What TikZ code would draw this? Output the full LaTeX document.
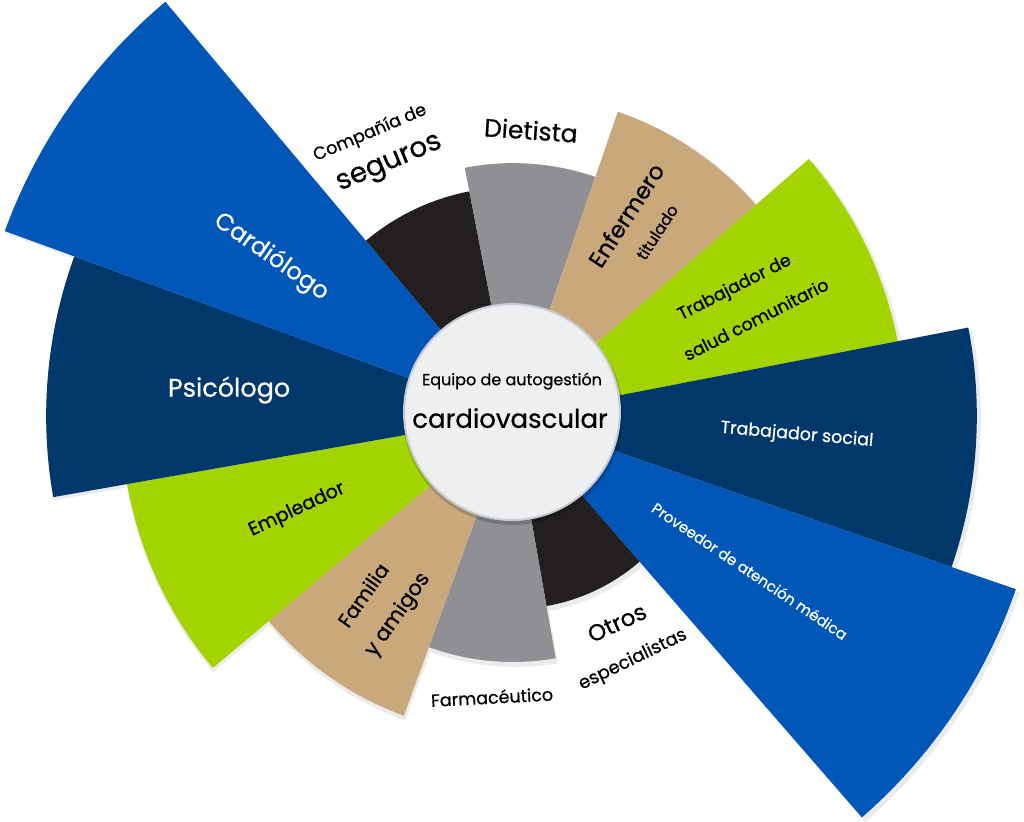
\documentclass[tikz,border=0pt]{standalone}
\usepackage{fontspec}
\setmainfont{Poppins}[FakeBold=0.6]
\definecolor{secblue}{HTML}{0057B8}
\definecolor{secnavy}{HTML}{00386B}
\definecolor{secgreen}{HTML}{A4D400}
\definecolor{sectan}{HTML}{C9A97B}
\definecolor{secgray}{HTML}{8E9094}
\definecolor{secblack}{HTML}{231F20}
\definecolor{hubfill}{HTML}{EDEFF1}
\definecolor{hubrim}{HTML}{C8CCD0}
\tikzset{
  sectorshadow/.style={fill=black,opacity=0.08},
  darktext/.style={text=black,inner sep=0pt},
  lighttext/.style={text=white,inner sep=0pt},
  bigtext/.style={font=\fontsize{25}{29}\selectfont},
  midtext/.style={font=\fontsize{17.5}{21}\selectfont},
  smalltext/.style={font=\fontsize{16}{19}\selectfont},
}
\begin{document}
\begin{tikzpicture}[x=1pt,y=1pt]
\filldraw[color=white] (-513.000000,-405.000000) rectangle (511.000000,416.000000);
% Drawing shadows under the sectors
\begin{scope}[shift={(2.000000,-3.000000)}]
\fill[sectorshadow] (0,0) -- (101.000000:231.000000) arc[start angle=101, end angle=130, radius=231pt] -- cycle;
\fill[sectorshadow] (0,0) -- (71.000000:255.000000) arc[start angle=71, end angle=101, radius=255pt] -- cycle;
\fill[sectorshadow] (0,0) -- (41.000000:324.000000) arc[start angle=41, end angle=71, radius=324pt] -- cycle;
\fill[sectorshadow] (0,0) -- (11.000000:394.000000) arc[start angle=11, end angle=41, radius=394pt] -- cycle;
\fill[sectorshadow] (0,0) -- (-19.000000:466.000000) arc[start angle=-19, end angle=11, radius=466pt] -- cycle;
\fill[sectorshadow] (0,0) -- (-49.000000:534.000000) arc[start angle=-49, end angle=-19, radius=534pt] -- cycle;
\fill[sectorshadow] (0,0) -- (-80.000000:195.000000) arc[start angle=-80, end angle=-49, radius=195pt] -- cycle;
\fill[sectorshadow] (0,0) -- (-110.000000:248.000000) arc[start angle=-110, end angle=-80, radius=248pt] -- cycle;
\fill[sectorshadow] (0,0) -- (-140.000000:321.000000) arc[start angle=-140, end angle=-110, radius=321pt] -- cycle;
\fill[sectorshadow] (0,0) -- (-170.000000:394.000000) arc[start angle=-170, end angle=-140, radius=394pt] -- cycle;
\fill[sectorshadow] (0,0) -- (160.000000:469.000000) arc[start angle=160, end angle=190, radius=469pt] -- cycle;
\fill[sectorshadow] (0,0) -- (130.000000:543.000000) arc[start angle=130, end angle=160, radius=543pt] -- cycle;
\end{scope}
% Drawing sectors, clockwise from the top
% Sector 1: seguros
\fill[color=secblack] (0,0) -- (101.000000:229.000000) arc[start angle=101, end angle=130, radius=229pt] -- cycle;
% Sector 2: dietista
\fill[color=secgray] (0,0) -- (71.000000:253.000000) arc[start angle=71, end angle=101, radius=253pt] -- cycle;
% Sector 3: enfermero
\fill[color=sectan] (0,0) -- (41.000000:322.000000) arc[start angle=41, end angle=71, radius=322pt] -- cycle;
% Sector 4: salud comunitario
\fill[color=secgreen] (0,0) -- (11.000000:392.000000) arc[start angle=11, end angle=41, radius=392pt] -- cycle;
% Sector 5: trabajador social
\fill[color=secnavy] (0,0) -- (-19.000000:464.000000) arc[start angle=-19, end angle=11, radius=464pt] -- cycle;
% Sector 6: proveedor
\fill[color=secblue] (0,0) -- (-49.000000:532.000000) arc[start angle=-49, end angle=-19, radius=532pt] -- cycle;
% Sector 7: otros
\fill[color=secblack] (0,0) -- (-80.000000:193.000000) arc[start angle=-80, end angle=-49, radius=193pt] -- cycle;
% Sector 8: farmaceutico
\fill[color=secgray] (0,0) -- (-110.000000:246.000000) arc[start angle=-110, end angle=-80, radius=246pt] -- cycle;
% Sector 9: familia
\fill[color=sectan] (0,0) -- (-140.000000:319.000000) arc[start angle=-140, end angle=-110, radius=319pt] -- cycle;
% Sector 10: empleador
\fill[color=secgreen] (0,0) -- (-170.000000:392.000000) arc[start angle=-170, end angle=-140, radius=392pt] -- cycle;
% Sector 11: psicologo
\fill[color=secnavy] (0,0) -- (160.000000:467.000000) arc[start angle=160, end angle=190, radius=467pt] -- cycle;
% Sector 12: cardiologo
\fill[color=secblue] (0,0) -- (130.000000:541.000000) arc[start angle=130, end angle=160, radius=541pt] -- cycle;
% Done with sectors; drawing the hub
\fill[color=black,opacity=0.18] (0.000000,1.000000) circle(110.000000);
\filldraw[fill=hubfill,draw=hubrim,line width=2pt] (-1.000000,4.000000) circle(108.000000);
\node[darktext,smalltext] (equipo) at (-1.000000,35.000000) {Equipo de autogestión};
\node[darktext,font=\fontsize{26}{30}\selectfont] (cardio) at (-3.000000,-2.000000) {cardiovascular};
% Done with hub; drawing sector labels
\node[darktext,font=\fontsize{17.5}{21}\selectfont,rotate=23] (compania) at (-143.000000,283.000000) {Compañía de};
\node[darktext,font=\fontsize{28}{32}\selectfont,rotate=23] (seguros) at (-123.000000,251.000000) {seguros};
\node[darktext,bigtext,rotate=-4] (dietista) at (18.000000,286.000000) {Dietista};
\node[darktext,font=\fontsize{23}{27}\selectfont,rotate=57] (enfermero) at (113.000000,201.000000) {Enfermero};
\node[darktext,smalltext,rotate=57] (titulado) at (144.000000,184.000000) {titulado};
\node[darktext,midtext,rotate=27] (trabajador) at (222.000000,128.000000) {Trabajador de};
\node[darktext,midtext,rotate=27] (salud) at (243.000000,97.000000) {salud comunitario};
\node[lighttext,midtext,rotate=-5] (social) at (284.000000,-19.000000) {Trabajador social};
\node[lighttext,font=\fontsize{15}{18}\selectfont,rotate=-34] (proveedor) at (237.000000,-155.000000) {Proveedor de atención médica};
\node[darktext,font=\fontsize{23}{27}\selectfont,rotate=25] (otros) at (104.000000,-207.000000) {Otros};
\node[darktext,font=\fontsize{18}{21}\selectfont,rotate=26] (especialistas) at (120.000000,-244.000000) {especialistas};
\node[darktext,midtext,rotate=3] (farmaceutico) at (-21.000000,-281.000000) {Farmacéutico};
\node[darktext,font=\fontsize{20}{24}\selectfont,rotate=55] (familia) at (-150.000000,-179.000000) {Familia};
\node[darktext,font=\fontsize{21}{25}\selectfont,rotate=55] (amigos) at (-115.000000,-199.000000) {y amigos};
\node[darktext,font=\fontsize{19}{22}\selectfont,rotate=25] (empleador) at (-216.000000,-94.000000) {Empleador};
\node[lighttext,font=\fontsize{25.5}{29}\selectfont] (psicologo) at (-284.000000,26.000000) {Psicólogo};
\node[lighttext,font=\fontsize{24}{28}\selectfont,rotate=-35] (cardiologo) at (-242.000000,159.000000) {Cardiólogo};
% Done with labels
\end{tikzpicture}
\end{document}
